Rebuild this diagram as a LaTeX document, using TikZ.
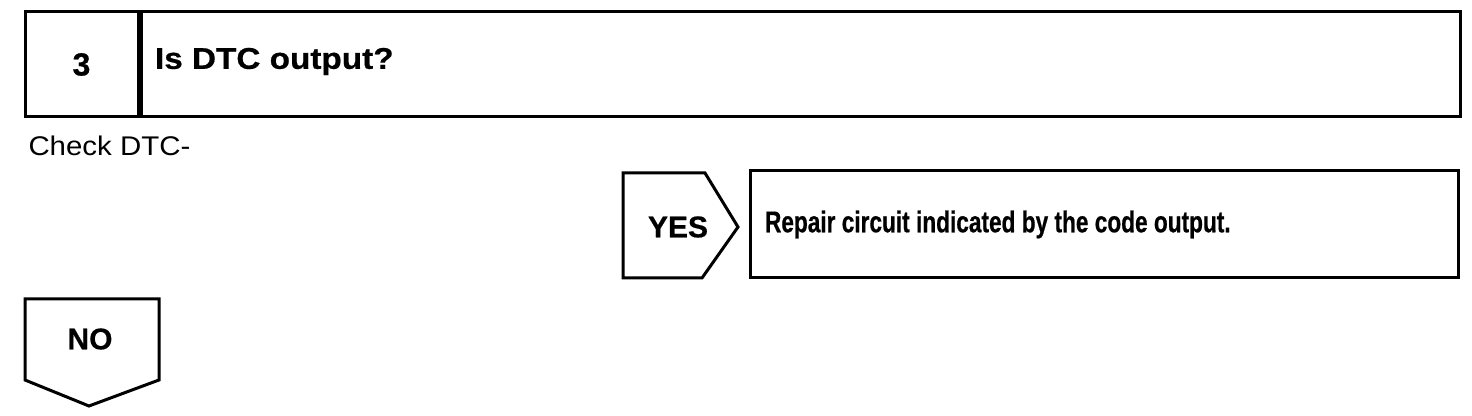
\documentclass[tikz,border=0pt]{standalone}
\usepackage{fontspec}
\setmainfont{Liberation Sans}
\newfontfamily\headfont[FakeStretch=1.11,FakeBold=0.6]{Liberation Sans}
\newfontfamily\repfont[FakeStretch=0.755,FakeBold=0.6]{Liberation Sans}
\newfontfamily\tagfont[FakeBold=0.6]{Liberation Sans}
\newfontfamily\notefont[FakeStretch=1.09]{Liberation Sans}
\usetikzlibrary{positioning}

\begin{document}
\begin{tikzpicture}[line width=1.5pt, font=\tagfont\bfseries\fontsize{15}{17}\selectfont]
        \tikzset{
            box/.style={draw, rectangle, inner sep=0pt, minimum height=52.5pt},
            lbl/.style={inner sep=0pt, anchor=west}
        }
        \useasboundingbox (0pt,0pt) rectangle (736pt,-208pt);
        %% ---- Cabecera del paso ----
        \node[box, minimum width=56.5pt, font=\tagfont\bfseries\fontsize{16}{18}\selectfont]
            (num) at (40.75pt,-32.25pt) {3};
        \node[box, minimum width=659.5pt, right=0pt of num] (head) {};
        \node[lbl, font=\headfont\bfseries\fontsize{15}{17}\selectfont]
            (quest) at ([xshift=7pt,yshift=1.5pt]head.west) {Is DTC output?};
        %% ---- Nota ----
        \node[lbl, font=\notefont\mdseries\fontsize{13.5}{16}\selectfont]
            (note) at (13.5pt,-73pt) {Check DTC-};
        %% ---- Rama YES ----
        \node (yes) at (339pt,-113.5pt) {YES};
        \draw (311.5pt,-86.5pt) -- (352.5pt,-86.5pt) -- (369pt,-113.5pt)
              -- (351pt,-139pt) -- (311.5pt,-139pt) -- cycle;
        \node[box, minimum width=354pt, minimum height=53.5pt] (rep) at (552pt,-112.25pt) {};
        \node[lbl, font=\repfont\bfseries\fontsize{15}{17}\selectfont]
            (reptxt) at ([xshift=7.5pt]rep.west) {Repair circuit indicated by the code output.};
        %% ---- Rama NO ----
        \node (no) at (45pt,-169.5pt) {NO};
        \draw (12.5pt,-149.5pt) -- (79.5pt,-149.5pt) -- (79.5pt,-190pt)
              -- (44.5pt,-203pt) -- (12.5pt,-190pt) -- cycle;
    \end{tikzpicture}
\end{document}
